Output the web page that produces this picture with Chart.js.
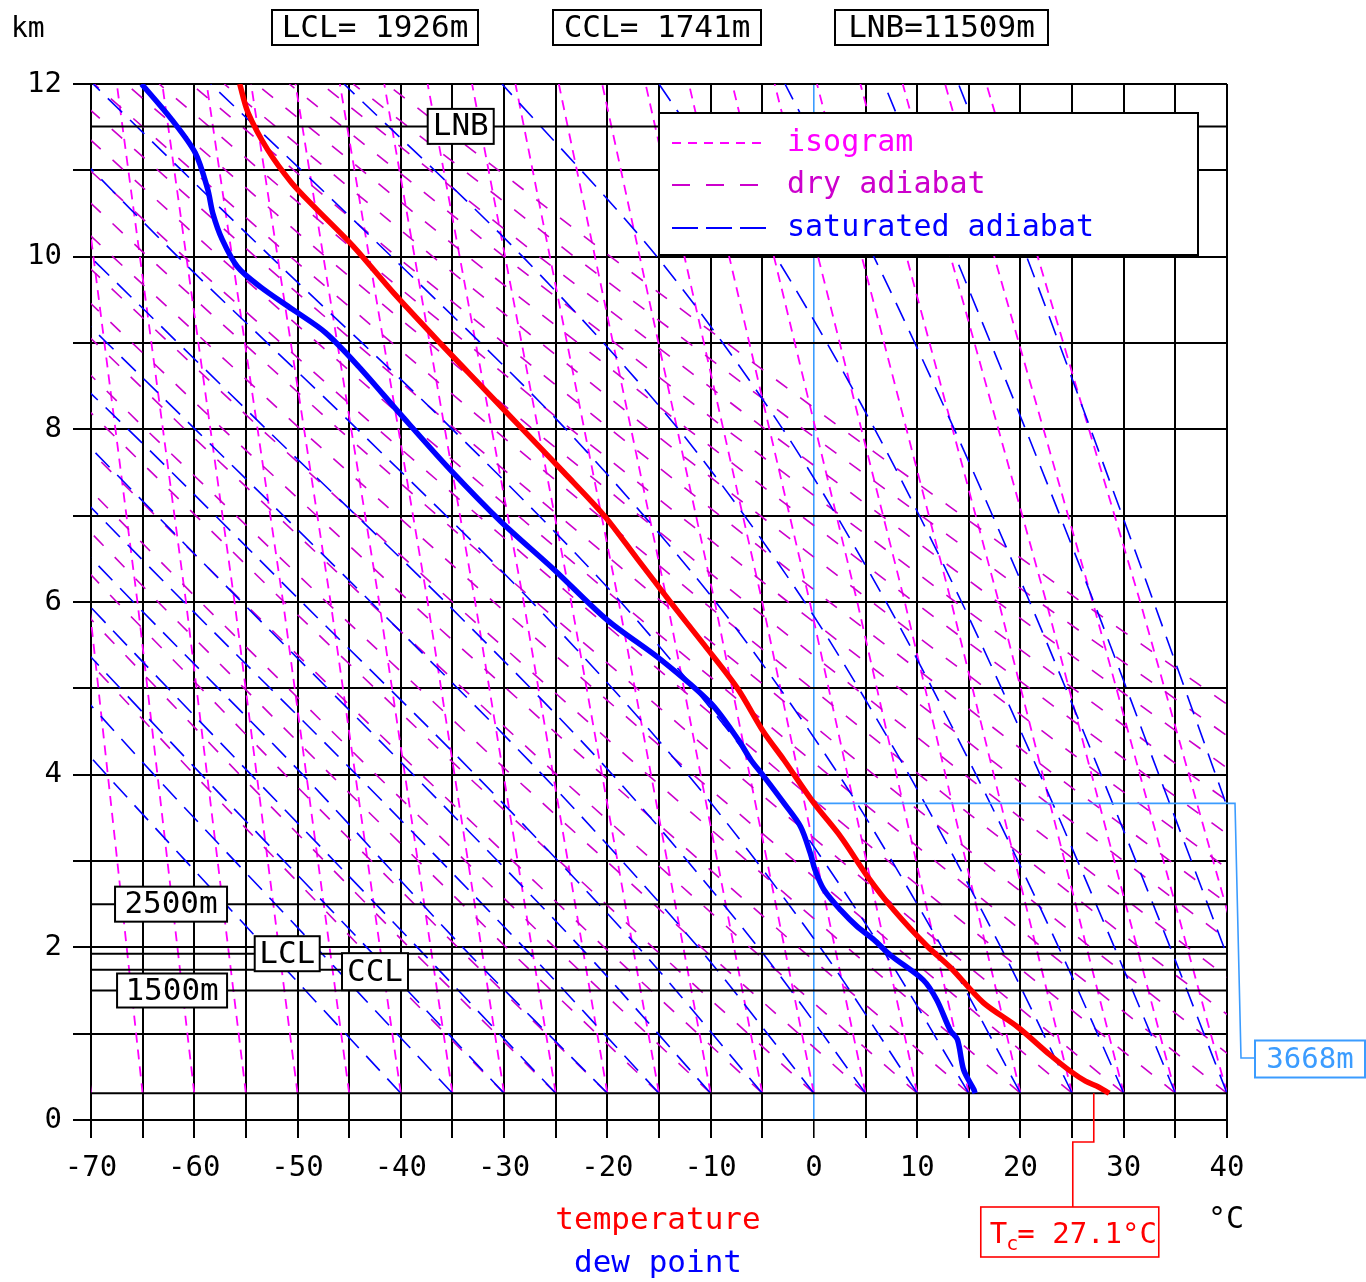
<!DOCTYPE html>
<html>
<head>
<meta charset="utf-8">
<title>Sounding</title>
<script src="https://cdn.jsdelivr.net/npm/chart.js@4.4.1/dist/chart.umd.min.js"></script>
<style>
  html, body { margin: 0; padding: 0; background: #fff; }
  #wrap { width: 1366px; height: 1282px; position: relative; }
</style>
</head>
<body>
<div id="wrap"><canvas id="sounding"></canvas></div>
<script>
// axis range
const tempMin = -70;
const tempMax = 40;
const heightMax = 12;

// measured temperature profile (km, degC)
const tempHeights = [0.31, 0.38, 0.45, 0.56, 0.75, 1.08, 1.36, 1.77, 2.01, 2.43, 2.82, 3.28, 3.67, 4.17, 4.5,
    5.0, 5.5, 6.0, 6.5, 7.0, 7.5, 8.0, 8.5, 9.0, 9.58, 10.12, 10.58, 10.86, 11.24, 11.67, 12.0];
const temperature = [28.6, 27.6, 26.3, 24.9, 22.9, 19.7, 16.4, 13.2, 11.0, 7.75, 5.2, 2.6, 0.0, -2.9, -4.9,
    -7.4, -10.6, -13.9, -17.1, -20.3, -24.2, -28.2, -32.2, -36.2, -40.7, -44.6, -48.4, -50.6, -52.9, -54.8, -55.6];

// measured dew point profile (km, degC)
const dewHeights = [0.31, 0.35, 0.58, 0.93, 1.04, 1.39, 1.62, 1.91, 2.09, 2.24, 2.43, 2.67, 2.90, 3.09, 3.40,
    3.67, 3.98, 4.17, 4.4, 4.83, 5.33, 5.79, 6.38, 6.93, 7.53, 8.17, 8.73, 9.12, 9.39, 9.65, 9.88, 10.2, 10.5,
    10.78, 11.2, 11.59, 12.0];
const dewPoint = [15.6, 15.5, 14.5, 13.9, 13.2, 11.9, 10.6, 7.4, 5.8, 4.2, 2.6, 0.96, 0.1, -0.35, -1.3,
    -2.9, -4.85, -6.1, -7.3, -10.0, -14.8, -20.0, -25.2, -30.3, -35.2, -40.0, -44.1, -47.3, -50.5, -53.6, -55.8,
    -57.3, -58.2, -58.7, -59.9, -62.2, -65.1];

// derived levels
const surfaceHeight = 0.31;   // km
const lclHeight = 1926;       // m
const cclHeight = 1741;       // m
const lnbHeight = 11509;      // m
const freezingHeight = 3668;  // m
const convectiveTemp = 27.1;  // degC
const markerLevels = [1500, 2500]; // m

// background lines: temperatures read at these heights (km)
const adiabatLevels = [0.31, 2, 4, 6, 8, 10, 12];
const isogramLevels = [0.31, 6, 12];

const dryAdiabats = [
    [-30, -43.9, -60.0, -75.6],
    [-25, -39.2, -55.6, -71.6],
    [-20, -34.5, -51.2, -67.5, -83.4],
    [-15, -29.8, -46.8, -63.5, -79.7],
    [-10, -25.1, -42.4, -59.4, -75.9],
    [-5, -20.3, -38.0, -55.3, -72.2],
    [0, -15.6, -33.7, -51.3, -68.4, -85.1],
    [5, -10.9, -29.3, -47.2, -64.7, -81.7],
    [10, -6.2, -24.9, -43.1, -60.9, -78.2],
    [15, -1.5, -20.5, -39.1, -57.2, -74.8],
    [20, 3.2, -16.1, -35.0, -53.5, -71.3],
    [25, 8.0, -11.7, -31.0, -49.7, -67.9, -85.5],
    [30, 12.7, -7.4, -26.9, -46.0, -64.5, -82.3],
    [35, 17.4, -3.0, -22.8, -42.2, -61.0, -79.2],
    [40, 22.1, 1.4, -18.8, -38.5, -57.6, -76.0],
    [45, 26.8, 5.8, -14.7, -34.7, -54.1, -72.9],
    [50, 31.5, 10.2, -10.7, -31.0, -50.7, -69.7],
    [55, 36.2, 14.6, -6.6, -27.2, -47.3, -66.6],
    [60, 41.0, 19.0, -2.5, -23.5, -43.8, -63.4],
    [65, 45.7, 23.3, 1.5, -19.7, -40.4, -60.3],
    [70, 50.4, 27.7, 5.6, -16.0, -36.9, -57.1],
    [75, 55.1, 32.1, 9.7, -12.2, -33.5, -54.0],
    [80, 59.8, 36.5, 13.7, -8.5, -30.0, -50.8],
    [85, 64.5, 40.9, 17.8, -4.7, -26.6, -47.7],
    [90, 69.2, 45.3, 21.8, -1.0, -23.2, -44.6],
    [95, 74.0, 49.7, 25.9, 2.8, -19.7, -41.4]
];

const satAdiabats = [
    [-40, -53.1, -68.5, -83.5],
    [-35, -48.2, -63.9, -79.0],
    [-30, -43.3, -59.3, -75.0],
    [-25, -38.4, -54.5, -70.5, -86.0],
    [-20, -34.0, -49.5, -65.9, -81.9],
    [-15, -28.1, -44.3, -61.0, -77.4],
    [-10, -22.6, -38.8, -55.4, -71.8],
    [-5, -17.0, -32.8, -49.6, -66.4, -84.0],
    [0, -11.2, -26.3, -42.9, -59.9, -77.0],
    [5, -5.4, -19.5, -35.7, -53.0, -70.1],
    [10, 0.6, -12.2, -27.3, -44.2, -61.6, -78.0],
    [15, 6.5, -5.0, -18.7, -35.0, -52.6, -69.8],
    [20, 12.4, 2.4, -9.5, -24.0, -40.9, -58.4],
    [25, 18.1, 9.2, -0.9, -13.1, -28.2, -45.5],
    [30, 23.7, 15.7, 7.0, -3.0, -15.2, -30.2],
    [35, 29.1, 21.9, 14.3, 5.9, -3.7, -15.0],
    [40, 34.5, 27.8, 20.9, 13.6, 5.8, -2.8],
    [45, 39.7, 33.4, 27.1, 20.5, 13.7, 6.8],
    [50, 44.9, 38.9, 32.9, 26.8, 20.6, 14.0]
];

const isograms = [
    [-70, -75.0, -80.7],
    [-65, -70.2, -76.3],
    [-60, -65.5, -71.9],
    [-55, -60.8, -67.5],
    [-50, -56.1, -63.1],
    [-45, -51.4, -58.8],
    [-40, -46.8, -54.5],
    [-35, -42.1, -50.2],
    [-30, -37.4, -45.9],
    [-25, -32.8, -41.6],
    [-20, -28.1, -37.4],
    [-15, -23.5, -33.1],
    [-10, -18.9, -28.9],
    [-5, -14.2, -24.7],
    [0, -9.6, -20.5],
    [5, -5.0, -16.3],
    [10, -0.4, -12.1],
    [15, 4.2, -7.9],
    [20, 8.8, -3.8],
    [25, 13.3, 0.3],
    [30, 17.9, 4.5],
    [35, 22.5, 8.6],
    [40, 27.0, 12.7],
    [45, 31.6, 16.7]
];

const MONO = '"DejaVu Sans Mono", monospace';
const COLORS = {
    isogram: '#ff00ff',
    dry: '#cc00cc',
    saturated: '#0000ff',
    temperature: '#ff0000',
    dewPoint: '#0000ff',
    freezing: '#3b9cff'
};

function toPoints(temps, heights) {
    return temps.map((t, i) => ({ x: t, y: heights[i] }));
}

function backgroundLine(row, levels, color, dash, width, order, tension) {
    return {
        data: toPoints(row, levels),
        showLine: true,
        borderColor: color,
        borderWidth: width,
        borderDash: dash,
        tension: tension || 0,
        order: order
    };
}

function levelLine(height, color, width, order, fromTemp) {
    return {
        data: [{ x: fromTemp, y: height }, { x: tempMax, y: height }],
        showLine: true,
        borderColor: color,
        borderWidth: width,
        order: order
    };
}

function buildDatasets() {
    const sets = [];
    isograms.forEach(row => sets.push(backgroundLine(row, isogramLevels, COLORS.isogram, [10, 7], 1.8, 40)));
    dryAdiabats.forEach(row => sets.push(backgroundLine(row, adiabatLevels, COLORS.dry, [14, 16], 1.6, 39)));
    satAdiabats.forEach(row => sets.push(backgroundLine(row, adiabatLevels, COLORS.saturated, [20, 11], 1.6, 38, 0.3)));

    // extra horizontal levels
    [surfaceHeight, lclHeight / 1000, cclHeight / 1000, lnbHeight / 1000]
        .concat(markerLevels.map(m => m / 1000))
        .forEach(h => sets.push(levelLine(h, '#000', 2, 20, tempMin)));

    sets.push(levelLine(freezingHeight / 1000, COLORS.freezing, 1.6, 15, 0));

    sets.push({
        data: toPoints(dewPoint, dewHeights),
        showLine: true,
        borderColor: COLORS.dewPoint,
        borderWidth: 5.5,
        tension: 0.3,
        order: 11
    });
    sets.push({
        data: toPoints(temperature, tempHeights),
        showLine: true,
        borderColor: COLORS.temperature,
        borderWidth: 5.5,
        tension: 0.3,
        order: 10
    });
    return sets;
}

function drawBox(ctx, text, cx, cy, w, h, color, size) {
    ctx.setLineDash([]);
    ctx.fillStyle = '#fff';
    ctx.fillRect(cx - w / 2, cy - h / 2, w, h);
    ctx.lineWidth = 2;
    ctx.strokeStyle = color;
    ctx.strokeRect(cx - w / 2, cy - h / 2, w, h);
    ctx.fillStyle = color;
    ctx.font = size + 'px ' + MONO;
    ctx.textAlign = 'center';
    ctx.textBaseline = 'middle';
    ctx.fillText(text, cx, cy + 1);
}

function drawLevelBoxes(ctx, xs, ys) {
    drawBox(ctx, 'LNB', xs.getPixelForValue(-34.2), ys.getPixelForValue(lnbHeight / 1000), 66, 35, '#000', 31);
    drawBox(ctx, 'LCL', xs.getPixelForValue(-51.0), ys.getPixelForValue(lclHeight / 1000), 65, 35, '#000', 31);
    drawBox(ctx, 'CCL', xs.getPixelForValue(-42.5), ys.getPixelForValue(cclHeight / 1000) + 2, 66, 37, '#000', 31);
    drawBox(ctx, markerLevels[1] + 'm', xs.getPixelForValue(-62.25), ys.getPixelForValue(markerLevels[1] / 1000), 112, 35, '#000', 31);
    drawBox(ctx, markerLevels[0] + 'm', xs.getPixelForValue(-62.15), ys.getPixelForValue(markerLevels[0] / 1000), 110, 34, '#000', 31);
}

function drawFreezingLeader(ctx, area, ys) {
    const y0 = ys.getPixelForValue(freezingHeight / 1000);
    const x0 = area.right;
    const yLabel = area.bottom - 62;
    ctx.setLineDash([]);
    ctx.strokeStyle = COLORS.freezing;
    ctx.lineWidth = 1.6;
    ctx.beginPath();
    ctx.moveTo(x0, y0);
    ctx.lineTo(x0 + 8, y0);
    ctx.lineTo(x0 + 14, yLabel);
    ctx.lineTo(x0 + 28, yLabel);
    ctx.stroke();
    drawBox(ctx, freezingHeight + 'm', x0 + 83, yLabel + 1, 110, 37, COLORS.freezing, 29);
}

function drawConvectiveTemp(ctx, area, xs, ys) {
    const px = xs.getPixelForValue(convectiveTemp);
    const py = ys.getPixelForValue(surfaceHeight);
    const bend = area.bottom + 22;
    const boxTop = area.bottom + 87;
    ctx.setLineDash([]);
    ctx.strokeStyle = COLORS.temperature;
    ctx.lineWidth = 1.6;
    ctx.beginPath();
    ctx.moveTo(px, py);
    ctx.lineTo(px, bend);
    ctx.lineTo(px - 21, bend);
    ctx.lineTo(px - 21, boxTop);
    ctx.stroke();

    const left = px - 113;
    ctx.fillStyle = '#fff';
    ctx.fillRect(left, boxTop, 178, 50);
    ctx.strokeRect(left, boxTop, 178, 50);

    ctx.fillStyle = COLORS.temperature;
    ctx.textAlign = 'left';
    ctx.textBaseline = 'alphabetic';
    const base = boxTop + 36;
    ctx.font = '29px ' + MONO;
    ctx.fillText('T', left + 9, base);
    let cursor = left + 9 + ctx.measureText('T').width;
    ctx.font = '20px ' + MONO;
    ctx.fillText('c', cursor - 1, base + 7);
    cursor += ctx.measureText('c').width;
    ctx.font = '29px ' + MONO;
    ctx.fillText('=' + convectiveTemp.toFixed(1).padStart(5) + '\u00B0C', cursor - 2, base);
}

function drawHeader(ctx) {
    drawBox(ctx, 'LCL=' + String(lclHeight).padStart(5) + 'm', 375, 27.5, 206, 35, '#000', 31);
    drawBox(ctx, 'CCL=' + String(cclHeight).padStart(5) + 'm', 657, 27.5, 208, 35, '#000', 31);
    drawBox(ctx, 'LNB=' + String(lnbHeight).padStart(5) + 'm', 941.5, 27.5, 213, 35, '#000', 31);
}

function drawLegend(ctx) {
    const left = 659, top = 113, width = 539, height = 142;
    ctx.setLineDash([]);
    ctx.fillStyle = '#fff';
    ctx.fillRect(left, top, width, height);
    ctx.strokeStyle = '#000';
    ctx.lineWidth = 2;
    ctx.strokeRect(left, top, width, height);

    const rows = [
        { label: 'isogram', color: COLORS.isogram, dash: [9, 7], y: 143 },
        { label: 'dry adiabat', color: COLORS.dry, dash: [18, 16], y: 185 },
        { label: 'saturated adiabat', color: COLORS.saturated, dash: [26, 8], y: 228 }
    ];
    ctx.font = '30px ' + MONO;
    ctx.textAlign = 'left';
    ctx.textBaseline = 'middle';
    rows.forEach(r => {
        ctx.strokeStyle = r.color;
        ctx.lineWidth = 2;
        ctx.setLineDash(r.dash);
        ctx.beginPath();
        ctx.moveTo(672, r.y);
        ctx.lineTo(766, r.y);
        ctx.stroke();
        ctx.setLineDash([]);
        ctx.fillStyle = r.color;
        ctx.fillText(r.label, 787, r.y);
    });
}

function drawAxisTexts(ctx) {
    ctx.setLineDash([]);
    ctx.textBaseline = 'middle';
    ctx.fillStyle = '#000';
    ctx.font = '28px ' + MONO;
    ctx.textAlign = 'left';
    ctx.fillText('km', 11, 30);
    ctx.textAlign = 'center';
    ctx.font = '30px ' + MONO;
    ctx.fillText('\u00B0C', 1226, 1220);
    ctx.font = '31px ' + MONO;
    ctx.fillStyle = COLORS.temperature;
    ctx.fillText('temperature', 658, 1221);
    ctx.fillStyle = COLORS.dewPoint;
    ctx.fillText('dew point', 658, 1264);
}

const overlayPlugin = {
    id: 'soundingOverlay',
    afterDatasetsDraw(chart) {
        const { ctx, chartArea } = chart;
        const xs = chart.scales.x;
        const ys = chart.scales.y;
        ctx.save();
        drawLevelBoxes(ctx, xs, ys);
        drawFreezingLeader(ctx, chartArea, ys);
        drawConvectiveTemp(ctx, chartArea, xs, ys);
        drawHeader(ctx);
        drawLegend(ctx);
        drawAxisTexts(ctx);
        ctx.restore();
    }
};

new Chart(document.getElementById('sounding'), {
    type: 'scatter',
    data: { datasets: buildDatasets() },
    options: {
        responsive: true,
        maintainAspectRatio: false,
        animation: false,
        events: [],
        layout: { padding: { top: 84, right: 139, bottom: 0, left: 0 } },
        elements: { point: { radius: 0 } },
        plugins: {
            legend: { display: false },
            tooltip: { enabled: false }
        },
        scales: {
            x: {
                type: 'linear',
                min: tempMin,
                max: tempMax,
                afterFit: scale => { scale.height = 162; },
                border: { display: false },
                grid: {
                    color: c => (c.tick && c.tick.value === 0 ? COLORS.freezing : '#000'),
                    lineWidth: c => (c.tick && c.tick.value === 0 ? 1.6 : 2),
                    tickColor: '#000',
                    tickLength: 18
                },
                ticks: {
                    stepSize: 5,
                    autoSkip: false,
                    maxRotation: 0,
                    padding: 13,
                    color: '#000',
                    font: { family: MONO, size: 29 },
                    callback: v => (v % 10 === 0 ? String(v) : '')
                }
            },
            y: {
                type: 'linear',
                min: 0,
                max: heightMax,
                afterFit: scale => { scale.width = 91; },
                border: { display: false },
                grid: { color: '#000', lineWidth: 2, tickLength: 18 },
                ticks: {
                    stepSize: 1,
                    autoSkip: false,
                    padding: 11,
                    color: '#000',
                    font: { family: MONO, size: 29 },
                    callback: v => (v % 2 === 0 ? String(v) : '')
                }
            }
        }
    },
    plugins: [overlayPlugin]
});
</script>
</body>
</html>
